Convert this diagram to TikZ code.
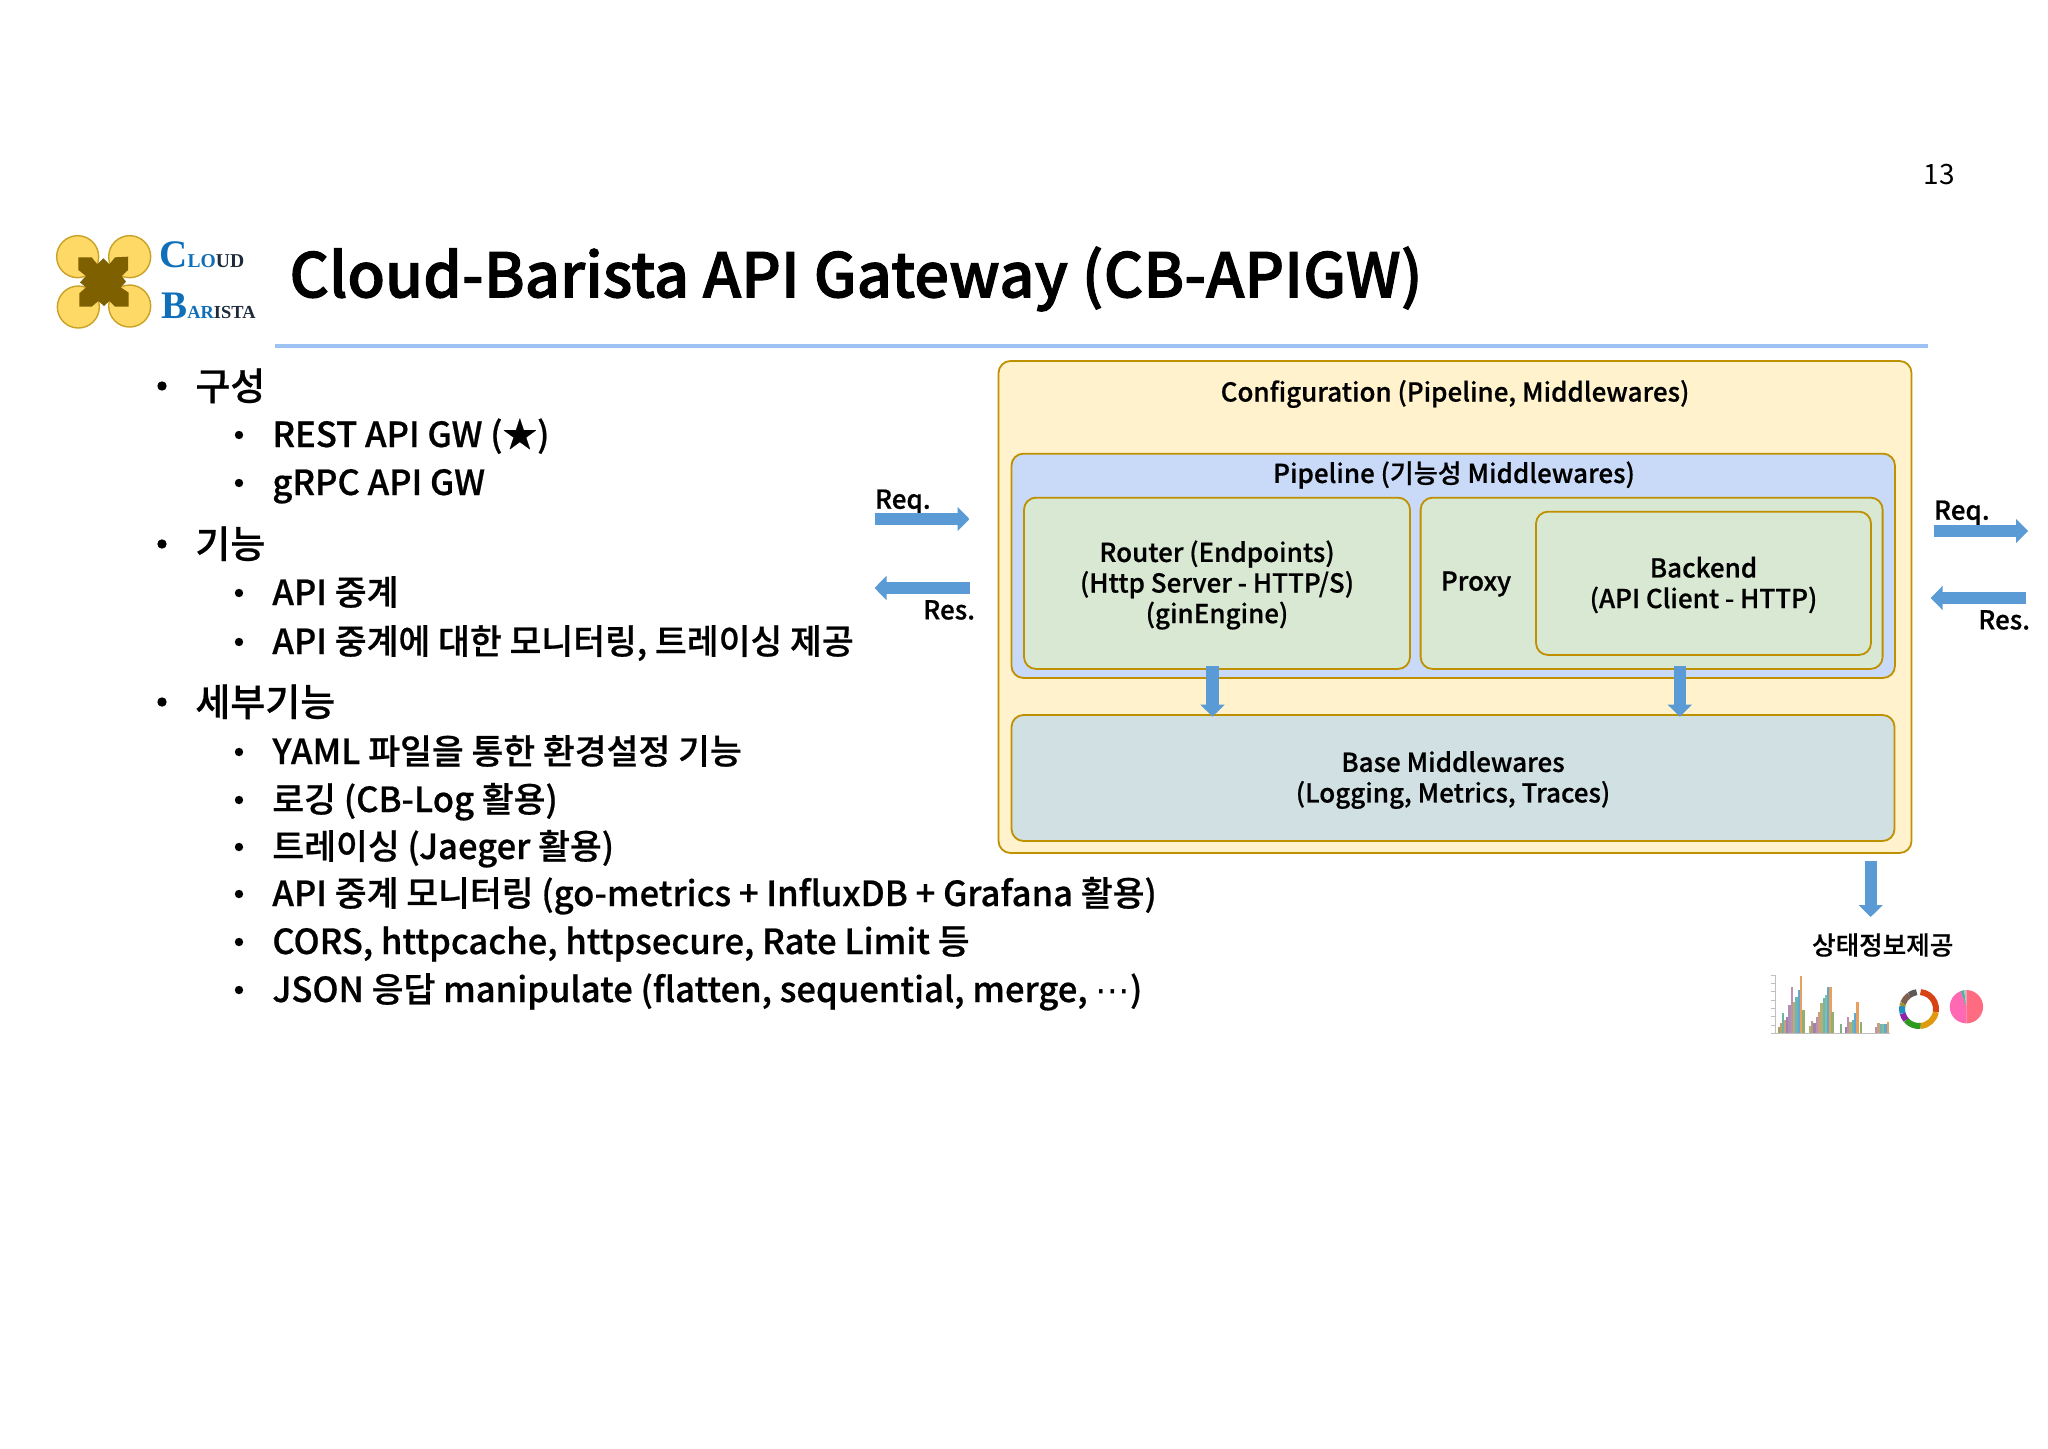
\documentclass[tikz,border=0pt]{standalone}
\usepackage{fontspec}
\usetikzlibrary{arrows.meta}
\setmainfont{Noto Sans CJK KR Medium}[FakeBold=0.6]
\newfontfamily\thinfont{Noto Sans CJK KR}
\newfontfamily\titlefont[FakeBold=1.6]{Noto Sans CJK KR Medium}
\newfontfamily\dotfont{DejaVu Sans}
\newfontfamily\logofont{Liberation Serif Bold}
\definecolor{boxline}{HTML}{BF9000}
\definecolor{confcol}{HTML}{FFF2CC}
\definecolor{pipecol}{HTML}{C9DAF8}
\definecolor{greencol}{HTML}{D9E8D2}
\definecolor{basecol}{HTML}{D0E0E3}
\definecolor{arrowcol}{HTML}{5B9BD5}
\definecolor{rulecol}{HTML}{9DC3F5}
\definecolor{logoblue}{HTML}{0F6FB8}
\definecolor{logodark}{HTML}{1C2A3A}
\definecolor{logogold}{HTML}{FFD966}
\definecolor{logobrown}{HTML}{7F6000}
\tikzset{
  box/.style={draw=boxline,line width=.9pt,rounded corners=6pt,inner sep=0pt,outer sep=0pt,align=center},
  lbl/.style={inner sep=0pt,outer sep=0pt,align=center,font=\fontsize{13}{15.3}\selectfont},
  flow/.style={draw=arrowcol,line width=6.2pt,-{Triangle[length=6pt,width=11.8pt]}},
  lone/.style={anchor=west,inner sep=0pt,text height=.8em,text depth=.2em,font=\fontsize{19}{20}\selectfont},
  ltwo/.style={anchor=west,inner sep=0pt,text height=.8em,text depth=.2em,font=\fontsize{17.3}{18}\selectfont},
  dot/.style={circle,fill=black,inner sep=0pt,minimum size=#1},
  bar/.style={line width=1.15pt}
}
\begin{document}
\begin{tikzpicture}[x=0.5pt,y=-0.5pt]
\useasboundingbox (0,0) rectangle (2048,1449);

% page number, title, rule
\node[inner sep=0pt,font=\fontsize{14}{16}\selectfont\thinfont] (pageno) at (1939,175) {13};
\node[anchor=west,inner sep=0pt,font=\fontsize{30.7}{32}\selectfont\titlefont] (title) at (289,279) {Cloud-Barista API Gateway (CB-APIGW)};
\coordinate (ruleL) at (275,346);
\coordinate (ruleR) at (1928,346);
\draw[rulecol,line width=2pt] (ruleL) -- (ruleR);

% logo
\begin{scope}[shift={(0,200)},x=0.1667pt,y=-0.1667pt]
  \foreach \cx/\cy in {233/170,389/170,235/321,389/318}
    \draw[fill=logogold,draw=boxline!85!white,line width=.7pt] (\cx,\cy) circle (63);
  \fill[logobrown] (235,172) -- (275,172) -- (292,193) -- (310,175) -- (328,193) -- (345,172) -- (384,170)
    -- (384,210) -- (365,228) -- (378,245) -- (362,262) -- (386,278) -- (386,320) -- (345,320) -- (328,303) -- (312,318)
    -- (295,303) -- (275,320) -- (238,320) -- (238,280) -- (258,262) -- (240,247) -- (258,228) -- (235,210) -- cycle;
\end{scope}
\node[anchor=base west,inner sep=0pt,font=\logofont] (logocloud) at (159,268)
  {\fontsize{19.5}{20}\selectfont\color{logoblue}C\fontsize{9.8}{12}\selectfont LO\color{logodark}UD};
\node[anchor=base west,inner sep=0pt,font=\logofont] (logobarista) at (161,319)
  {\fontsize{19.5}{20}\selectfont\color{logoblue}B\fontsize{9.2}{12}\selectfont AR\color{logodark}ISTA};

% bullet list
\foreach \ypos/\txt in {386/구성,544/기능,702/세부기능} {
  \node[dot=4.7pt] (bul\ypos) at (162,\ypos) {};
  \node[lone] (item\ypos) at (195,\ypos+8) {\txt};
}
\foreach \ypos/\txt in {435/{REST API GW (★)},483/gRPC API GW,593/API 중계,642/{API 중계에 대한 모니터링, 트레이싱 제공},
    752/YAML 파일을 통한 환경설정 기능,800/로깅 (CB-Log 활용),847/트레이싱 (Jaeger 활용),
    894/API 중계 모니터링 (go-metrics + InfluxDB + Grafana 활용),942/{CORS, httpcache, httpsecure, Rate Limit 등},
    990/{JSON 응답 manipulate (flatten, sequential, merge, {\dotfont\char"22EF})}} {
  \node[dot=4.2pt] (bul\ypos) at (239,\ypos) {};
  \node[ltwo] (item\ypos) at (272,\ypos+6) {\txt};
}

% boxes
\node[box,fill=confcol,minimum width=456.5pt,minimum height=246pt] (config) at (1455,607) {};
\node[box,fill=pipecol,minimum width=441.75pt,minimum height=112.15pt] (pipeline) at (1453.2,565.8) {};
\node[box,fill=greencol,minimum width=193pt,minimum height=85.65pt] (router) at (1217,583.3) {};
\node[box,fill=greencol,minimum width=231pt,minimum height=85.65pt] (proxy) at (1651.6,583.3) {};
\node[box,fill=greencol,minimum width=167.5pt,minimum height=71.65pt] (backend) at (1703.5,583.3) {};
\node[box,fill=basecol,minimum width=441.5pt,minimum height=63pt] (base) at (1453,778) {};
\node[lbl] (routerlbl) at (1217,585) {Router (Endpoints)\\(Http Server - HTTP/S)\\(ginEngine)};
\node[lbl] (backendlbl) at (1703.5,585) {Backend\\(API Client - HTTP)};
\node[lbl] (baselbl) at (1453,780) {Base Middlewares\\(Logging, Metrics, Traces)};
\node[lbl] (configlbl) at (1455,394) {Configuration (Pipeline, Middlewares)};
\node[lbl] (pipelbl) at (1454,475) {Pipeline (기능성 Middlewares)};
\node[lbl] (proxylbl) at (1476,584) {Proxy};

% request and response labels
\node[lbl,anchor=west] (reqL) at (875,502) {Req.};
\node[lbl,anchor=east] (resL) at (975,610) {Res.};
\node[lbl,anchor=west] (reqR) at (1934,513) {Req.};
\node[lbl,anchor=east] (resR) at (2030,620) {Res.};

% arrows
\coordinate (reqLa) at (874.5,519);   \coordinate (reqLb) at (969.5,519);
\coordinate (resLa) at (969.5,588);   \coordinate (resLb) at (874.5,588);
\coordinate (reqRa) at (1933.5,531);  \coordinate (reqRb) at (2028,531);
\coordinate (resRa) at (2025.5,598);  \coordinate (resRb) at (1930.6,598);
\coordinate (routerout) at (1212.5,666);  \coordinate (basein) at (1212.5,716.7);
\coordinate (proxyout) at (1679.8,666);   \coordinate (basein2) at (1679.8,716.7);
\coordinate (configout) at (1870.7,860.7); \coordinate (statein) at (1870.7,917);
\draw[flow] (reqLa) -- (reqLb);
\draw[flow] (resLa) -- (resLb);
\draw[flow] (reqRa) -- (reqRb);
\draw[flow] (resRa) -- (resRb);
\draw[flow] (routerout) -- (basein);
\draw[flow] (proxyout) -- (basein2);
\draw[flow] (configout) -- (statein);

\node[inner sep=0pt,font=\fontsize{12.8}{15}\selectfont] (statelbl) at (1882.7,945) {상태정보제공};

% small charts
\begin{scope}[shift={(1740,840)},x=0.1667pt,y=-0.1667pt]
  \draw[black!25,line width=.3pt] (107,405) -- (107,580) -- (450,580);
  \foreach \ty in {405,430,455,480,505,530,555,580}
    \draw[black!25,line width=.3pt] (92,\ty) -- (107,\ty);
  \foreach \bx/\bh/\bc in {117/18/A8A060,124/30/C0A070,129/60/6DB5A0,136/40/C9A080,141/48/A080B0,148/85/B090B0,155/140/C090B0,
      162/95/B5B070,169/110/70B5B5,176/130/60A8D0,183/172/E8A060,190/70/90B070,
      210/22/B5B070,216/38/B0A080,223/30/A080B0,230/50/C090B0,237/65/C9A080,244/90/B5B070,251/105/70B5B5,258/115/80C0A0,
      265/140/60A8D0,271/140/E8A060,277/65/90B070,
      303/28/80B080,317/20/A080B0,324/50/C090B0,331/35/B5B070,338/40/70B5B5,345/60/60A8D0,352/95/E8A060,362/35/90B070,
      408/18/C090B0,415/30/C9A080,422/28/70B5B5,429/28/80C0A0,436/28/60A8D0,443/35/E8A060} {
    \definecolor{barcol}{HTML}{\bc}
    \draw[bar,barcol] (\bx,580) -- ++(0,-\bh);
  }
  % ring
  \foreach \sa/\sb/\bc in {-85/10/D84315,10/85/E09A10,85/140/2E9A20,140/165/8E24AA,165/190/2090C0,190/200/A09030,200/235/806050,235/262/605858} {
    \definecolor{barcol}{HTML}{\bc}
    \draw[barcol,line width=3pt] (537,507) ++(\sa:51) arc[start angle=\sa,end angle=\sb,radius=51];
  }
  % pie
  \foreach \sa/\sb/\bc in {-90/90/FF6B81,90/250/FF69B4,250/262/50B0A0,262/270/C0C0C0} {
    \definecolor{barcol}{HTML}{\bc}
    \fill[barcol] (679,500) -- ++(\sa:50) arc[start angle=\sa,end angle=\sb,radius=50] -- cycle;
  }
\end{scope}
\end{tikzpicture}
\end{document}
